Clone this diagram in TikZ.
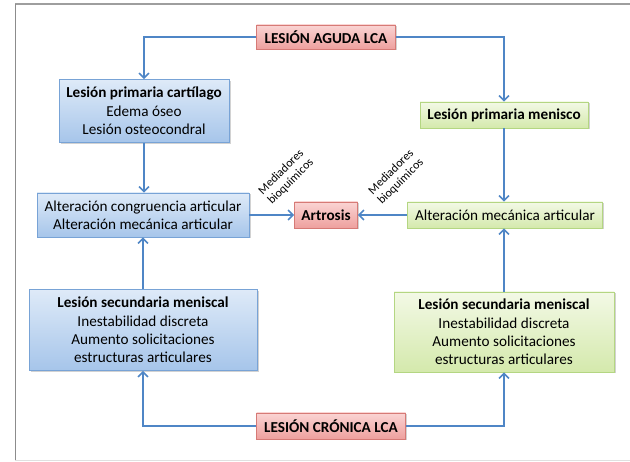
\documentclass[tikz,border=0pt]{standalone}
\usepackage{fontspec}
\setmainfont{Carlito}
\usetikzlibrary{arrows.meta,shadows}

\definecolor{flecha}{RGB}{79,134,198}
\definecolor{azulA}{RGB}{222,234,248}
\definecolor{azulB}{RGB}{166,197,234}
\definecolor{azulBorde}{RGB}{120,163,214}
\definecolor{verdeA}{RGB}{243,249,230}
\definecolor{verdeB}{RGB}{212,233,172}
\definecolor{verdeBorde}{RGB}{180,214,130}
\definecolor{rojoA}{RGB}{250,212,211}
\definecolor{rojoB}{RGB}{238,160,158}
\definecolor{rojoBorde}{RGB}{214,122,118}

\tikzset{
  caja/.style = {draw, line width = 0.8pt, align = center, inner sep = 2pt,
    font = \fontsize{15.2}{18.3}\selectfont,
    drop shadow = {shadow xshift = 1.5pt, shadow yshift = -1.5pt, opacity = 0.35}},
  azul/.style = {caja, draw = azulBorde, top color = azulA, bottom color = azulB},
  verde/.style = {caja, draw = verdeBorde, top color = verdeA, bottom color = verdeB},
  rojo/.style = {caja, draw = rojoBorde, top color = rojoA, bottom color = rojoB},
  flechita/.style = {draw = flecha, line width = 1.8pt,
    -{Straight Barb[length = 5pt, width = 10pt, line width = 1.5pt]}},
  mediador/.style = {align = center, rotate = 45, font = \fontsize{12}{13.5}\selectfont}
}

\begin{document}
\begin{tikzpicture}[x = 1pt, y = -1pt]

  \useasboundingbox (0, 0) rectangle (630, 462);
  \draw[fill = white, draw = none] (0, 0) rectangle (630, 462);

  % marco
  \draw[line width = 1.6pt, color = black!38] (15, 4) -- (632, 4);
  \draw[line width = 0.8pt, color = black!45] (15, 4) -- (15, 460);
  \draw[line width = 0.8pt, color = black!12] (15, 460) -- (632, 460);

  % cajas
  \node[rojo, minimum width = 139pt, minimum height = 24pt] (aguda) at (326, 37)
    {\textbf{LESIÓN AGUDA LCA}};
  \node[azul, minimum width = 170pt, minimum height = 63pt] (cartilago) at (144, 111)
    {\textbf{Lesión primaria cartílago}\\Edema óseo\\Lesión osteocondral};
  \node[verde, minimum width = 168pt, minimum height = 26pt] (menisco) at (504, 115)
    {\textbf{Lesión primaria menisco}};
  \node[azul, minimum width = 212pt, minimum height = 44pt] (altizq) at (143, 215)
    {Alteración congruencia articular\\Alteración mecánica articular};
  \node[rojo, minimum width = 63pt, minimum height = 26pt] (artrosis) at (326, 215)
    {\textbf{Artrosis}};
  \node[verde, minimum width = 195pt, minimum height = 26pt] (altder) at (505, 215)
    {Alteración mecánica articular};
  \node[azul, minimum width = 228pt, minimum height = 81pt] (secizq) at (143, 330)
    {\textbf{Lesión secundaria meniscal}\\Inestabilidad discreta\\Aumento solicitaciones\\estructuras articulares};
  \node[verde, minimum width = 220pt, minimum height = 80pt] (secder) at (504, 332)
    {\textbf{Lesión secundaria meniscal}\\Inestabilidad discreta\\Aumento solicitaciones\\estructuras articulares};
  \node[rojo, minimum width = 149pt, minimum height = 26pt] (cronica) at (331, 426)
    {\textbf{LESIÓN CRÓNICA LCA}};

  % textos inclinados
  \node[mediador] (medizq) at (286, 177) {Mediadores\\bioquímicos};
  \node[mediador] (medder) at (396, 177) {Mediadores\\bioquímicos};

  % flechas
  \draw[flechita] (aguda.west) -| (cartilago.north);
  \draw[flechita] (aguda.east) -| (menisco.north);
  \draw[flechita] (cartilago.south) -- (cartilago.south |- altizq.north);
  \draw[flechita] (menisco.south) -- (menisco.south |- altder.north);
  \draw[flechita] (secizq.north) -- (secizq.north |- altizq.south);
  \draw[flechita] (secder.north) -- (secder.north |- altder.south);
  \draw[flechita] (cronica.west) -| (secizq.south);
  \draw[flechita] (cronica.east) -| (secder.south);
  \draw[flechita] (altizq.east) -- (artrosis.west);
  \draw[flechita] (altder.west) -- (artrosis.east);

\end{tikzpicture}
\end{document}
